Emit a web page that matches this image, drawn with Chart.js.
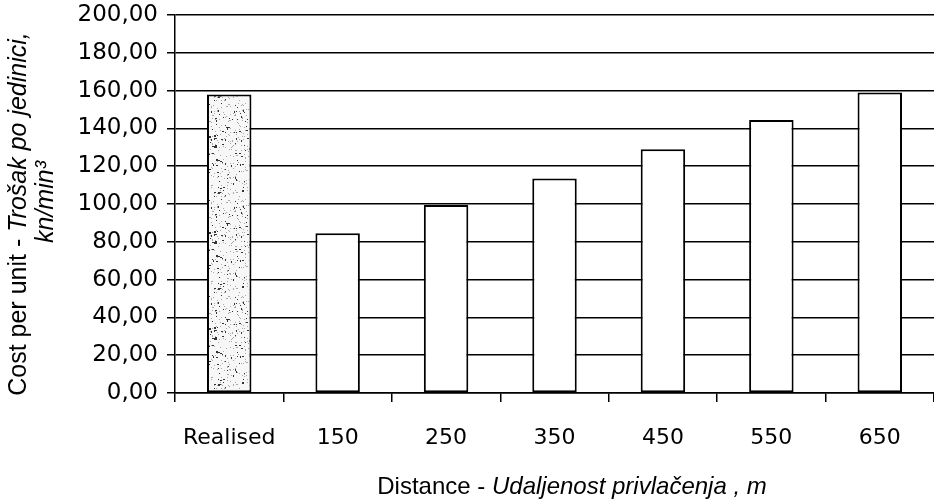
<!DOCTYPE html>
<html><head><meta charset="utf-8">
<script src="https://cdn.jsdelivr.net/npm/chart.js@4/dist/chart.umd.min.js"></script>
<style>html,body{margin:0;padding:0;background:#fff}#wrap{width:934px;height:500px}</style>
</head><body><div id="wrap"><canvas id="c" width="934" height="500"></canvas></div>
<script>
const categories = ['Realised', '150', '250', '350', '450', '550', '650'];
const costValues = [158, 84.5, 99.5, 113.5, 129, 144.5, 159];
const yMin = 0, yMax = 200, yStep = 20;
const yTitleLine1 = [['Cost per unit - ', false], ['Trošak po jedinici,', true]];
const yTitleLine2 = [['kn/min³', true]];
const xTitle = [['Distance - ', false], ['Udaljenost privlačenja , m', true]];

const FONT = '"Liberation Sans", Arial, sans-serif';
const TICKFONT = '"DejaVu Sans", sans-serif';
const canvas = document.getElementById('c');
const ctx0 = canvas.getContext('2d');

function mix(n) {
  n = (n ^ 61) ^ (n >>> 16);
  n = (n + (n << 3)) >>> 0;
  n = n ^ (n >>> 4);
  n = Math.imul(n, 0x27d4eb2d) >>> 0;
  n = n ^ (n >>> 15);
  return n >>> 0;
}
function speckle() {
  const W = 64, H = 96;
  const p = document.createElement('canvas');
  p.width = W; p.height = H;
  const g = p.getContext('2d');
  g.fillStyle = '#f7f7f7'; g.fillRect(0, 0, W, H);
  g.fillStyle = '#a8a8a8';
  for (let i = 1; i <= 380; i++) g.fillRect(mix(i * 2) % W, mix(i * 2 + 1) % H, 1, 1);
  g.fillStyle = '#333';
  for (let i = 1; i <= 160; i++) {
    const m = mix(i + 5000);
    g.fillRect(mix(i * 3 + 9001) % W, mix(i * 3 + 9002) % H, (m % 3 === 0) ? 2 : 1, (m % 5 === 0) ? 2 : 1);
  }
  return ctx0.createPattern(p, 'repeat');
}
const pat = speckle();
const fills = categories.map((c, i) => i === 0 ? pat : '#ffffff');

function drawMixed(ctx, parts, cx, cy, size) {
  const fonts = parts.map(([t, it]) => (it ? 'italic ' : '') + size + 'px ' + FONT);
  let total = 0;
  const widths = parts.map(([t], i) => { ctx.font = fonts[i]; const w = ctx.measureText(t).width; total += w; return w; });
  let x = cx - total / 2;
  ctx.textAlign = 'left'; ctx.textBaseline = 'middle'; ctx.fillStyle = '#000';
  parts.forEach(([t], i) => { ctx.font = fonts[i]; ctx.fillText(t, x, cy); x += widths[i]; });
}

const titlePlugin = {
  id: 'titles',
  afterDraw(chart) {
    const ctx = chart.ctx;
    ctx.save();
    ctx.translate(19, 214);
    ctx.rotate(-Math.PI / 2);
    drawMixed(ctx, yTitleLine1, 0, 0, 25);
    ctx.restore();
    ctx.save();
    ctx.translate(46, 202);
    ctx.rotate(-Math.PI / 2);
    drawMixed(ctx, yTitleLine2, 0, 0, 25);
    ctx.restore();
    ctx.save();
    drawMixed(ctx, xTitle, 572, 487, 24);
    ctx.restore();
  }
};

new Chart(canvas, {
  type: 'bar',
  data: {
    labels: categories,
    datasets: [{
      data: costValues,
      backgroundColor: fills,
      borderColor: '#000',
      borderWidth: 2,
      borderSkipped: false,
      categoryPercentage: 1,
      barPercentage: 0.41
    }]
  },
  options: {
    responsive: false,
    animation: false,
    devicePixelRatio: 1,
    layout: { padding: { top: 15, right: 0, left: 0, bottom: 0 } },
    plugins: { legend: { display: false }, tooltip: { enabled: false } },
    scales: {
      x: {
        grid: { drawOnChartArea: false, drawTicks: true, tickLength: 9, color: '#000', lineWidth: 1.5, offset: true },
        border: { color: '#000', width: 1.5 },
        ticks: { color: '#000', font: { family: TICKFONT, size: 22 }, padding: 23, maxRotation: 0 },
        afterFit(s) { s.height = 107; s.paddingLeft = 0; s.paddingRight = 0; }
      },
      y: {
        min: yMin, max: yMax,
        grid: { color: '#000', lineWidth: 1.5, tickLength: 8 },
        border: { color: '#000', width: 1.5 },
        ticks: {
          stepSize: yStep, color: '#000', font: { family: TICKFONT, size: 23 }, padding: 9,
          callback: v => v.toFixed(2).replace('.', ',')
        },
        afterFit(s) { s.width = 175; s.paddingTop = 0; s.paddingBottom = 0; }
      }
    }
  },
  plugins: [titlePlugin]
});
</script>
</body></html>
